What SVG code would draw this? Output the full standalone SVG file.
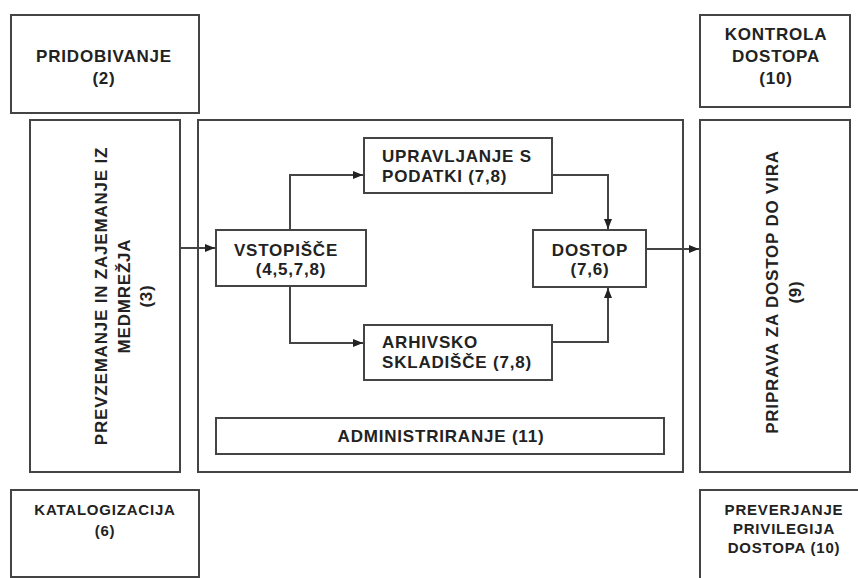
<svg xmlns="http://www.w3.org/2000/svg" width="858" height="578" viewBox="0 0 858 578">
<style>
.box{fill:#fff;stroke:#444;stroke-width:2}
.t{font-family:"Liberation Sans",Arial,sans-serif;font-weight:bold;font-size:17px;letter-spacing:0.8px;fill:#222}
.s{font-size:15px}
.c{text-anchor:middle}
.ln{fill:none;stroke:#444;stroke-width:2}
</style>
<defs>
<marker id="ah" markerUnits="userSpaceOnUse" markerWidth="11" markerHeight="9" refX="10" refY="4" orient="auto">
<path d="M0,0 L10,4 L0,8 z" fill="#222"/>
</marker>
</defs>
<rect width="858" height="578" fill="#fff"/>
<g id="pridobivanje">
<rect class="box" x="11" y="15" width="188" height="98"/>
<text class="t c" x="104" y="62">PRIDOBIVANJE</text>
<text class="t c" x="104" y="84">(2)</text>
</g>
<g id="prevzemanje">
<rect class="box" x="30" y="120" width="150" height="352"/>
<text class="t c" transform="translate(107,296) rotate(-90)">PREVZEMANJE IN ZAJEMANJE IZ</text>
<text class="t c" transform="translate(130,296) rotate(-90)">MEDMREŽJA</text>
<text class="t c" transform="translate(152,296) rotate(-90)">(3)</text>
</g>
<g id="sistem">
<rect class="box" x="198" y="120" width="485" height="352"/>
</g>
<g id="vstopisce">
<rect class="box" x="216" y="230" width="150" height="56"/>
<text class="t c" x="286" y="256">VSTOPIŠČE</text>
<text class="t c" x="291" y="275">(4,5,7,8)</text>
</g>
<g id="upravljanje">
<rect class="box" x="364" y="138" width="188" height="55"/>
<text class="t" x="382" y="162">UPRAVLJANJE S</text>
<text class="t" x="382" y="182">PODATKI (7,8)</text>
</g>
<g id="arhivsko">
<rect class="box" x="364" y="325" width="188" height="55"/>
<text class="t" x="382" y="348">ARHIVSKO</text>
<text class="t" x="382" y="368">SKLADIŠČE (7,8)</text>
</g>
<g id="dostop">
<rect class="box" x="533" y="230" width="113" height="57"/>
<text class="t c" x="590" y="256">DOSTOP</text>
<text class="t c" x="590" y="275">(7,6)</text>
</g>
<g id="administriranje">
<rect class="box" x="216" y="418" width="448" height="36"/>
<text class="t c" x="441" y="442">ADMINISTRIRANJE (11)</text>
</g>
<g id="kontrola">
<rect class="box" x="700" y="15" width="150" height="92"/>
<text class="t c" x="776" y="40">KONTROLA</text>
<text class="t c" x="776" y="62">DOSTOPA</text>
<text class="t c" x="776" y="84">(10)</text>
</g>
<g id="priprava">
<rect class="box" x="700" y="120" width="150" height="352"/>
<text class="t c" transform="translate(778,292) rotate(-90)">PRIPRAVA ZA DOSTOP DO VIRA</text>
<text class="t c" transform="translate(801,292) rotate(-90)">(9)</text>
</g>
<g id="katalogizacija">
<rect class="box" x="11" y="490" width="188" height="87"/>
<text class="t s c" x="105" y="515">KATALOGIZACIJA</text>
<text class="t s c" x="105" y="536">(6)</text>
</g>
<g id="preverjanje">
<rect class="box" x="700" y="490" width="180" height="110"/>
<text class="t s c" x="784" y="515">PREVERJANJE</text>
<text class="t s c" x="784" y="534">PRIVILEGIJA</text>
<text class="t s c" x="784" y="553">DOSTOPA (10)</text>
</g>
<g id="connectors">
<path class="ln" d="M180,248 H215" marker-end="url(#ah)"/>
<path class="ln" d="M290,230 V175 H363" marker-end="url(#ah)"/>
<path class="ln" d="M290,286 V343 H363" marker-end="url(#ah)"/>
<path class="ln" d="M552,175 H608 V229" marker-end="url(#ah)"/>
<path class="ln" d="M552,342 H608 V288" marker-end="url(#ah)"/>
<path class="ln" d="M646,249 H699" marker-end="url(#ah)"/>
</g>
</svg>
